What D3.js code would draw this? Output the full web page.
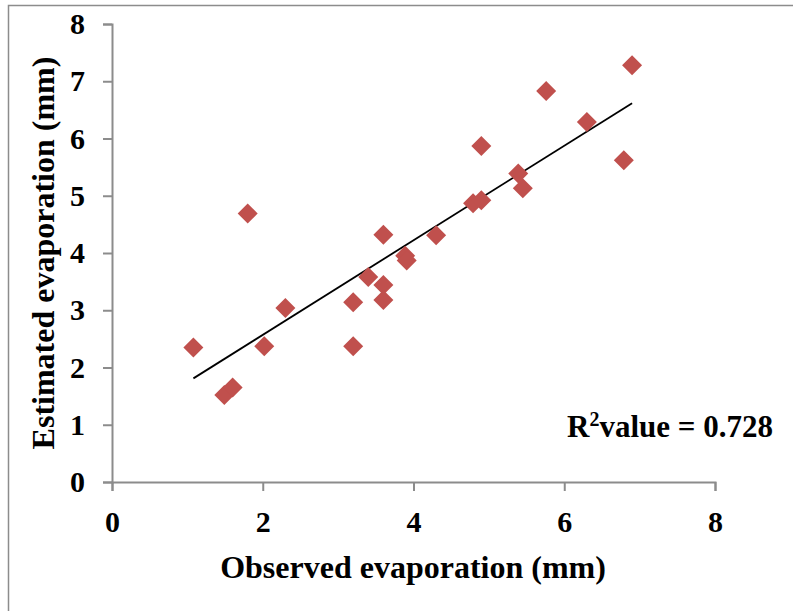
<!DOCTYPE html>
<html>
<head>
<meta charset="utf-8">
<script src="https://cdn.jsdelivr.net/npm/d3@7"></script>
<style>
  body { margin: 0; background: #fff; }
  svg text { font-family: "Liberation Serif", "Times New Roman", serif; font-weight: bold; fill: #000; }
</style>
</head>
<body>
<div id="chart"></div>
<script>
// observed vs estimated evaporation (mm)
var observed  = [1.08, 1.49, 1.60, 1.80, 2.02, 2.30, 3.20, 3.20, 3.40, 3.60, 3.60, 3.60, 3.89, 3.91, 4.30, 4.79, 4.90, 4.90, 5.39, 5.45, 5.76, 6.30, 6.79, 6.90];
var estimated = [2.35, 1.52, 1.65, 4.69, 2.37, 3.04, 2.37, 3.14, 3.58, 4.32, 3.44, 3.18, 3.95, 3.87, 4.31, 4.87, 4.92, 5.87, 5.39, 5.13, 6.83, 6.29, 5.62, 7.28];
var xTicks = [0, 2, 4, 6, 8];
var yTicks = [0, 1, 2, 3, 4, 5, 6, 7, 8];
var trendSlope = 0.826;
var trendIntercept = 0.918;
var r2Label = "0.728";

var svgwidth = 793, svgheight = 611;
var margin = {top: 24, right: 78, bottom: 129, left: 112};
var width = svgwidth - margin.left - margin.right;
var height = svgheight - margin.top - margin.bottom;

var svg = d3.select("#chart").append("svg")
    .attr("width", svgwidth)
    .attr("height", svgheight);

// chart border
svg.append("rect")
    .attr("x", 8.5).attr("y", 5.5)
    .attr("width", 900).attr("height", 900)
    .attr("fill", "none")
    .attr("stroke", "#8c8c8c")
    .attr("stroke-width", 1.5);

var g = svg.append("g")
    .attr("transform", "translate(" + margin.left + "," + margin.top + ")");

var x = d3.scaleLinear().domain([0, 8]).range([0, width]);
var y = d3.scaleLinear().domain([0, 8]).range([height, 0]);

var xAxisg = g.append("g")
    .attr("transform", "translate(0," + height + ")")
    .call(d3.axisBottom(x).tickValues(xTicks).tickSizeOuter(0).tickSize(9).tickPadding(20));
var yAxisg = g.append("g")
    .call(d3.axisLeft(y).tickValues(yTicks).tickSizeOuter(0).tickSize(9).tickPadding(18));

[xAxisg, yAxisg].forEach(function(a) {
    a.selectAll("path, line").attr("stroke", "#8c8c8c").attr("stroke-width", 2);
    a.selectAll("text").style("font-size", "30px").style("font-family", "Liberation Serif").style("font-weight", "bold").attr("fill", "#000");
});

// trend line over the observed range
var x0 = d3.min(observed), x1 = d3.max(observed);
g.append("line")
    .attr("x1", x(x0)).attr("y1", y(trendSlope * x0 + trendIntercept))
    .attr("x2", x(x1)).attr("y2", y(trendSlope * x1 + trendIntercept))
    .attr("stroke", "#000")
    .attr("stroke-width", 1.8);

var pts = observed.map(function(d, i) { return [d, estimated[i]]; });
g.selectAll(".pt")
    .data(pts)
    .enter().append("path")
    .attr("class", "pt")
    .attr("d", "M0,-10L10,0L0,10L-10,0Z")
    .attr("transform", function(d) { return "translate(" + x(d[0]) + "," + y(d[1]) + ")"; })
    .attr("fill", "#C0504D");

svg.append("text")
    .attr("x", 413).attr("y", 578)
    .attr("text-anchor", "middle")
    .style("font-size", "32px")
    .text("Observed evaporation (mm)");

svg.append("text")
    .attr("transform", "translate(54,253) rotate(-90)")
    .attr("text-anchor", "middle")
    .style("font-size", "32px")
    .text("Estimated evaporation (mm)");

var r2 = svg.append("text")
    .attr("x", 773).attr("y", 437)
    .attr("text-anchor", "end")
    .style("font-size", "31px");
r2.append("tspan").text("R");
r2.append("tspan").attr("dy", -11).style("font-size", "20px").text("2");
r2.append("tspan").attr("dy", 11).text("value = " + r2Label);
</script>
</body>
</html>
